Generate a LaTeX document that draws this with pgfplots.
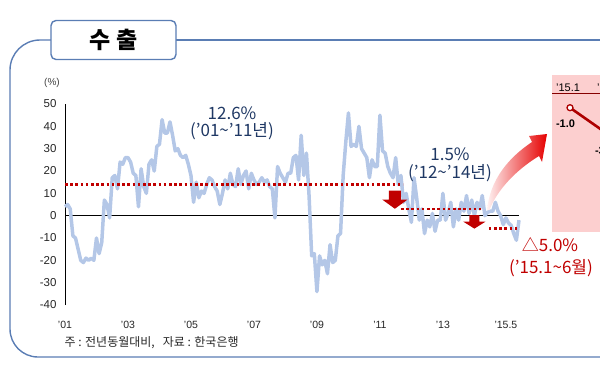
\documentclass[border=0pt]{standalone}
\usepackage{pgfplots}
\pgfplotsset{compat=1.18}
\usepackage{pgfplotstable}
\usepackage{fontspec}
\setmainfont{Liberation Sans}
\newfontfamily\kr{Noto Sans CJK KR}
\definecolor{framec}{HTML}{5A7DB4}
\definecolor{series}{HTML}{B4C7E7}
\definecolor{dred}{HTML}{C00000}
\definecolor{navy}{HTML}{1F3864}
\definecolor{pinkbg}{HTML}{FCCFCF}

\pgfplotstableread{
m v
0 4
1 5
2 3
3 -9
4 -10
5 -15
6 -20
7 -21
8 -19
9 -20
10 -19
11 -20
12 -10
13 -17
14 -12
15 7
16 5
17 -1
18 17
19 18
20 12
21 24
22 23
23 26
24 26
25 24
26 19
27 18
28 4
29 21
30 13
31 10
32 23
33 25
34 20
35 31
36 32
37 43
38 37
39 37
40 42
41 36
42 29
43 30
44 27
45 26
46 27
47 23
48 18
49 6
50 15
51 8
52 11
53 10
54 14
55 17
56 16
57 13
58 11
59 5
60 10
61 16
62 12
63 19
64 14
65 13
66 21
67 14
68 18
69 20
70 12
71 19
72 16
73 14
74 15
75 17
76 15
77 16
78 13
79 12
80 -1
81 22
82 19
83 17
84 15
85 19
86 19
87 26
88 27
89 16
90 36
91 18
92 28
93 9
94 -18
95 -17
96 -34
97 -18
98 -22
99 -20
100 -26
101 -13
102 -21
103 -20
104 -9
105 -8
106 18
107 33
108 46
109 31
110 32
111 31
112 40
113 30
114 28
115 26
116 17
117 25
118 22
119 22
120 45
121 29
122 28
123 22
124 19
125 17
126 26
127 14
128 18
129 6
130 10
131 3
132 -3
133 17
134 8
135 -2
136 3
137 -8
138 -2
139 -5
140 1
141 -7
142 -2
143 -2
144 10
145 -2
146 1
147 6
148 -5
149 3
150 -2
151 6
152 2
153 9
154 1
155 7
156 0
157 6
158 3
159 9
160 0
161 1.5
162 2
163 2
164 6
165 2
166 0
167 -4
168 -1
169 -3.3
170 -4.3
171 -8
172 -11
173 -2
}\exports

\pgfplotstableread{
x v
0 -1.0
1 -3.3
2 -4.3
3 -8.1
4 -10.9
5 -1.8
}\inset

\begin{document}
\begin{tikzpicture}
\useasboundingbox (0pt,0pt) rectangle (600pt,-368pt);
\clip (0pt,0pt) rectangle (600pt,-368pt);
\begin{scope}[x=1pt,y=1pt]
% frame
\draw[framec, line width=1.4pt] (51,-40) -- (40,-40) arc[start angle=90, end angle=180, radius=30pt] -- (10,-329) arc[start angle=180, end angle=270, radius=28pt] -- (610,-357);
\draw[framec, line width=1.4pt] (176,-40) -- (610,-40);
\draw[framec, line width=1.4pt, fill=white, rounded corners=5pt] (51,-20.5) rectangle (176,-59.5);
\node[font=\kr\bfseries\fontsize{23}{25}\selectfont] at (113.5,-40) {수 출};
% inset background
\fill[pinkbg] (552,-75) rectangle (610,-232);
\draw[dred!70!black, line width=0.8pt] (552,-93) -- (610,-93);
\node[font=\fontsize{11}{13}\selectfont] at (568,-88) {’15.1};
\node[font=\fontsize{11}{13}\selectfont] at (609,-88) {’15.2};
\end{scope}

\begin{axis}[
  at={(65pt,-305pt)}, anchor=south west, scale only axis,
  width=454pt, height=201pt,
  xmin=0, xmax=173, ymin=-40, ymax=50,
  axis lines=left, axis line style={-, black, line width=0.8pt},
  x axis line style={draw=none},
  major tick length=0pt,
  ytick={-40,-30,...,50},
  xtick={0,24,48,72,96,120,144,168},
  xticklabels={’01,’03,’05,’07,’09,’11,’13,’15.5},
  yticklabel style={font=\fontsize{11.5}{13}\selectfont, text=black!85, xshift=-5pt},
  xticklabel style={font=\fontsize{10.5}{12}\selectfont, text=black!85, yshift=-13pt},
  /pgf/number format/assume math mode=true,
  clip=false,
]
\addplot[black, line width=0.8pt] coordinates {(0,0) (173,0)};
\addplot[series, line width=3.5pt, line join=round] table[x=m, y=v] {\exports};
\addplot[dred, line width=2.7pt, dash pattern=on 2.6pt off 2.6pt] coordinates {(0,14) (128.8,14)};
\addplot[dred, line width=2.7pt, dash pattern=on 2.6pt off 2.6pt] coordinates {(128,3) (158.5,3)};
\addplot[dred, line width=2.7pt, dash pattern=on 2.6pt off 2.6pt] coordinates {(161.5,-5.6) (172.4,-5.6)};
\fill[dred] (axis cs:123.4,11.2) -- (axis cs:128,11.2) -- (axis cs:128,7.2) -- (axis cs:130.5,7.2) -- (axis cs:125.7,3.1) -- (axis cs:120.9,7.2) -- (axis cs:123.4,7.2) -- cycle;
\fill[dred] (axis cs:154.1,0.2) -- (axis cs:157.9,0.2) -- (axis cs:157.9,-2.7) -- (axis cs:160.2,-2.7) -- (axis cs:156,-5.8) -- (axis cs:151.8,-2.7) -- (axis cs:154.1,-2.7) -- cycle;
\end{axis}

% inset chart
\begin{axis}[
  at={(570pt,-135pt)}, anchor=south west, scale only axis,
  width=39pt, height=27.3pt,
  xmin=0, xmax=1, ymin=-3.3, ymax=-1.0,
  hide axis, clip=false,
]
\addplot[color=dred!90!black, line width=2.6pt, mark=*, mark size=3pt, mark options={fill=white, line width=1.3pt}] table[x=x, y=v] {\inset};
\node[font=\bfseries\fontsize{11}{13}\selectfont] at (axis cs:0,-1.0) [xshift=-4.5pt, yshift=-16pt] {-1.0};
\node[font=\bfseries\fontsize{11}{13}\selectfont] at (axis cs:1,-3.3) [xshift=-4.5pt, yshift=-16pt] {-3.3};
\end{axis}

\begin{scope}[x=1pt,y=1pt]
% curved arrow
\shade[left color=red!5, right color=red!90!black]
  (487,-210) .. controls (490,-180) and (508,-158) .. (532,-142)
  -- (529,-136) -- (547,-134) -- (542,-162) -- (539,-156)
  .. controls (516,-170) and (497,-190) .. (489.5,-210) -- cycle;
% annotations
\node[font=\fontsize{10}{12}\selectfont, text=black!75] at (52,-83) {(\%)};
\node[font=\kr\fontsize{17}{20}\selectfont, text=navy] at (232,-113) {12.6\%};
\node[font=\kr\fontsize{17}{20}\selectfont, text=navy] at (232,-131.5) {(’01\textasciitilde’11년)};
\node[font=\kr\fontsize{17}{20}\selectfont, text=navy] at (450,-154) {1.5\%};
\node[font=\kr\fontsize{17}{20}\selectfont, text=navy] at (450,-173) {(’12\textasciitilde’14년)};
\node[font=\kr\fontsize{17}{20}\selectfont, text=dred] at (550,-245) {△5.0\%};
\node[font=\kr\fontsize{17}{20}\selectfont, text=dred] at (551,-268) {(’15.1\textasciitilde6월)};
\node[anchor=west, font=\kr\fontsize{12}{14}\selectfont, text=black!85] at (61,-343) {주 : 전년동월대비,\hspace{8pt}자료 : 한국은행};
\end{scope}
\end{tikzpicture}
\end{document}
